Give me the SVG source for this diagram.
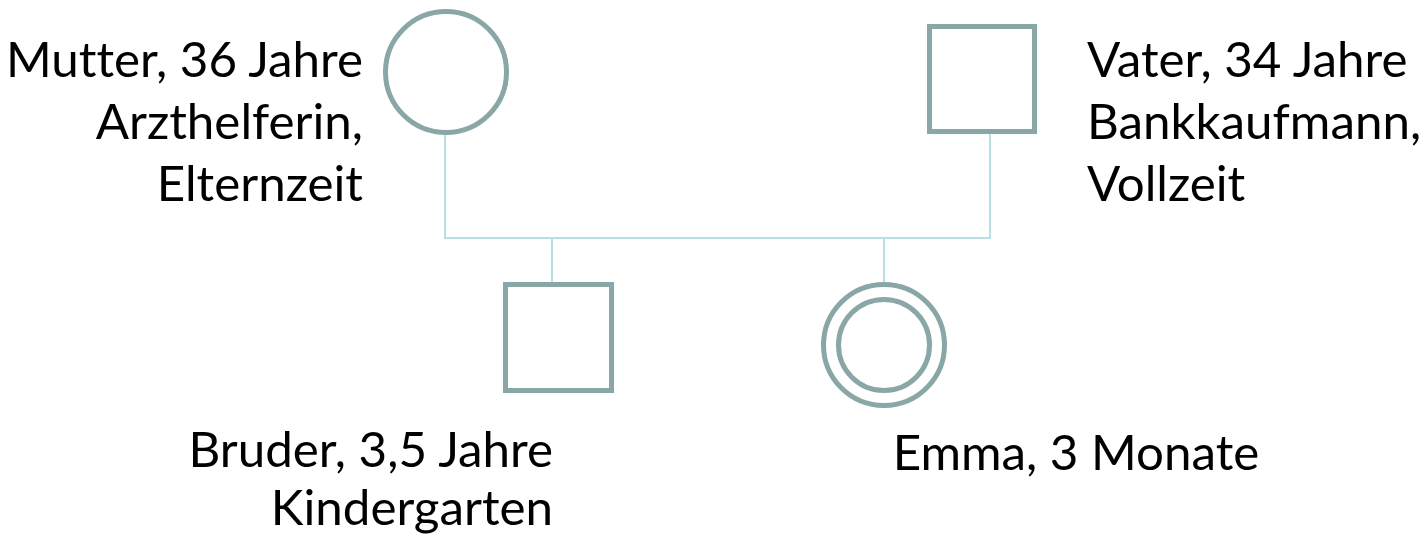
<svg xmlns="http://www.w3.org/2000/svg" width="1427" height="537" viewBox="0 0 1427 537">
<style>
.sym{fill:#fff;stroke:#8aa7a8;stroke-width:5}
.con{fill:none;stroke:#b8dfe2;stroke-width:2}
text{font-family:Lato,"Liberation Sans",sans-serif;font-size:49.3px;fill:#000;font-variant-ligatures:none;font-feature-settings:"liga" 0}
.e{text-anchor:end}
.m{text-anchor:middle}
</style>
<rect width="1427" height="537" fill="#fff"/>
<g id="connectors">
<path class="con" d="M445,134 V238 H990 V134"/>
<path class="con" d="M552,238 V284"/>
<path class="con" d="M884,238 V284"/>
</g>
<g id="mutter">
<circle class="sym" cx="446" cy="72" r="60.5"/>
<text class="e" x="363" y="77">Mutter, 36 Jahre</text>
<text class="e" x="363" y="139">Arzthelferin,</text>
<text class="e" x="363" y="201">Elternzeit</text>
</g>
<g id="vater">
<rect class="sym" x="929.5" y="26.5" width="105" height="105"/>
<text x="1087" y="77">Vater, 34 Jahre</text>
<text x="1087" y="139">Bankkaufmann,</text>
<text x="1087" y="201">Vollzeit</text>
</g>
<g id="bruder">
<rect class="sym" x="505.5" y="284.5" width="106" height="106"/>
<text class="e" x="553" y="467">Bruder, 3,5 Jahre</text>
<text class="e" x="553" y="525">Kindergarten</text>
</g>
<g id="emma">
<circle class="sym" cx="884" cy="345" r="60.5"/>
<circle class="sym" cx="884" cy="345" r="45.5"/>
<text class="m" x="1076" y="470">Emma, 3 Monate</text>
</g>
</svg>
